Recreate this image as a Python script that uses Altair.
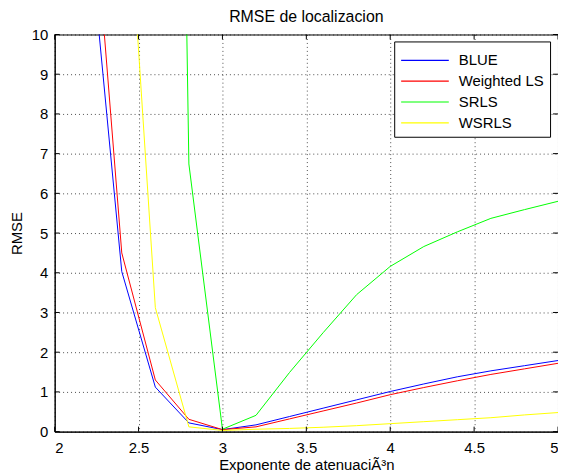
import altair as alt
import pandas as pd

xs = [2.0, 2.2, 2.4, 2.6, 2.8, 3.0, 3.2, 3.4, 3.6, 3.8, 4.0, 4.2, 4.4, 4.6, 4.8, 5.0]
blue = [40, 12.9, 4.03, 1.12, 0.22, 0.05, 0.17, 0.38, 0.59, 0.80, 1.01, 1.20, 1.38, 1.53, 1.66, 1.79]
wls = [45, 15.1, 4.5, 1.3, 0.31, 0.05, 0.12, 0.32, 0.52, 0.72, 0.93, 1.11, 1.28, 1.44, 1.58, 1.72]
srls = [300, 200, 120, 60, 6.74, 0.06, 0.41, 1.49, 2.49, 3.45, 4.16, 4.66, 5.03, 5.37, 5.59, 5.80]
wsrls = [200, 80, 16.1, 3.12, 0.12, 0.03, 0.06, 0.08, 0.11, 0.15, 0.20, 0.25, 0.30, 0.35, 0.42, 0.48]

names = ["BLUE", "Weighted LS", "SRLS", "WSRLS"]
colors = ["#0000ff", "#ff0000", "#00ff00", "#ffff00"]
x_ticks = [2, 2.5, 3, 3.5, 4, 4.5, 5]
y_ticks = [0, 1, 2, 3, 4, 5, 6, 7, 8, 9, 10]

rows = []
for name, vals in zip(names, [blue, wls, srls, wsrls]):
    for i, (x, v) in enumerate(zip(xs, vals)):
        rows.append({"x": x, "rmse": v, "method": name, "order": i})
df = pd.DataFrame(rows)

W, H = 507, 400
FONT = "Liberation Sans"

xscale = alt.Scale(domain=[2, 5], nice=False, zero=False)
yscale = alt.Scale(domain=[0, 10], nice=False)
xaxis = alt.Axis(values=x_ticks, format="~g", title="Exponente de atenuaciÃ³n",
                 grid=True, gridDash=[1, 3], gridColor="#000", gridOpacity=0.7,
                 tickSize=0, labelPadding=9, titlePadding=2, labelOverlap=False)
yaxis = alt.Axis(values=y_ticks, title="RMSE",
                 grid=True, gridDash=[1, 3], gridColor="#000", gridOpacity=0.7,
                 tickSize=0, labelPadding=7, titlePadding=7, labelOverlap=False)

lines = alt.Chart(df).mark_line(clip=True, strokeWidth=1).encode(
    x=alt.X("x:Q", scale=xscale, axis=xaxis),
    y=alt.Y("rmse:Q", scale=yscale, axis=yaxis),
    color=alt.Color("method:N",
                    scale=alt.Scale(domain=names, range=colors),
                    legend=alt.Legend(title=None, orient="none", legendX=342, legendY=7,
                                      symbolType="M-1,0H3", symbolSize=576, symbolStrokeWidth=1.2,
                                      symbolFillColor="transparent", symbolOpacity=1,
                                      labelFontSize=15, labelFont=FONT, labelColor="#000",
                                      fillColor="#fff", strokeColor="#000", padding=6,
                                      rowPadding=-1.5, labelOffset=33, labelLimit=300)),
    order="order:Q",
)

xt = pd.DataFrame({"x": x_ticks})
yt = pd.DataFrame({"rmse": y_ticks})

tb = alt.Chart(xt).mark_rule(color="#000", strokeWidth=1).encode(
    x=alt.X("x:Q", scale=xscale, axis=xaxis), y=alt.value(H), y2=alt.value(H - 5))
tt = alt.Chart(xt).mark_rule(color="#000", strokeWidth=1).encode(
    x=alt.X("x:Q", scale=xscale, axis=xaxis), y=alt.value(0), y2=alt.value(5))
tl = alt.Chart(yt).mark_rule(color="#000", strokeWidth=1).encode(
    y=alt.Y("rmse:Q", scale=yscale, axis=yaxis), x=alt.value(0), x2=alt.value(5))
tr = alt.Chart(yt).mark_rule(color="#000", strokeWidth=1).encode(
    y=alt.Y("rmse:Q", scale=yscale, axis=yaxis), x=alt.value(W), x2=alt.value(W - 5))

chart = alt.layer(lines, tb, tt, tl, tr).properties(
    width=W, height=H,
    title=alt.TitleParams("RMSE de localizacion", font=FONT, fontSize=16,
                          fontWeight="normal", color="#000", offset=3),
    autosize=alt.AutoSizeParams(type="none"),
    padding={"left": 47, "top": 25, "right": 0, "bottom": 41},
).configure_view(stroke="#000", strokeWidth=1).configure_axis(
    labelFont=FONT, labelFontSize=15, labelColor="#000",
    titleFont=FONT, titleFontSize=15, titleFontWeight="normal", titleColor="#000",
    domainColor="#000", domainWidth=1,
)

chart.save("out.html", embed_options={"renderer": "svg", "actions": False})
